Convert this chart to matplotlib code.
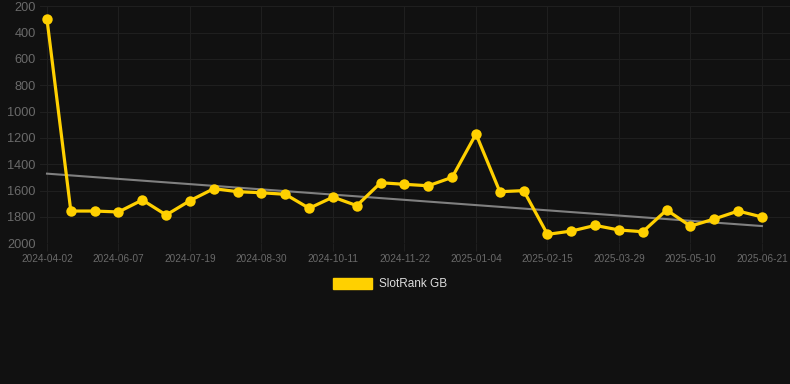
import numpy as np
import matplotlib
matplotlib.use('Agg')
import matplotlib.pyplot as plt
from matplotlib.patches import Patch

# data
DATES = ['2024-04-02', '2024-05-10', '2024-05-24', '2024-06-07', '2024-06-21',
         '2024-07-05', '2024-07-19', '2024-08-02', '2024-08-16', '2024-08-30',
         '2024-09-13', '2024-09-27', '2024-10-11', '2024-10-25', '2024-11-08',
         '2024-11-22', '2024-12-06', '2024-12-20', '2025-01-04', '2025-01-18',
         '2025-02-01', '2025-02-15', '2025-03-01', '2025-03-15', '2025-03-29',
         '2025-04-12', '2025-04-26', '2025-05-10', '2025-05-24', '2025-06-07',
         '2025-06-21']
RANKS = [300, 1755, 1755, 1762, 1671, 1785, 1676, 1585, 1608, 1616,
         1628, 1734, 1649, 1714, 1540, 1552, 1563, 1499, 1170, 1608,
         1600, 1932, 1907, 1864, 1899, 1912, 1747, 1870, 1815, 1755,
         1800]
TREND = [1471, 1869]  # trend line value at first and last date
Y_TICKS = [200, 400, 600, 800, 1000, 1200, 1400, 1600, 1800, 2000]
SERIES_NAME = 'SlotRank GB'

# colours
c_bg = '#111111'
c_grid = '#1f1f1f'
c_text = '#6a6a6a'
c_line = '#FFD000'
c_trend = '#808080'


def main():
    plt.rcParams['font.family'] = ['Liberation Sans', 'DejaVu Sans']

    fig = plt.figure(figsize=(7.9, 3.84), dpi=100, facecolor=c_bg)
    W, H = 790.0, 384.0
    ax = fig.add_axes([40 / W, (H - 243.3) / H, 750 / W, 237 / H])
    ax.set_facecolor(c_bg)

    x = np.arange(len(RANKS))

    # trend line
    ax.plot([x[0], x[-1]], TREND, color=c_trend, lw=1.5, zorder=2)

    ax.plot(x, RANKS, color=c_line, lw=2.3, marker='o', markersize=7.5,
            markeredgewidth=0, zorder=3)

    ax.set_ylim(2000, 200)
    ax.set_yticks(Y_TICKS)
    ax.set_xlim(-7 / 23.833, 743 / 23.833)
    ax.set_xticks(x[::3])
    ax.set_xticklabels(DATES[::3])

    ax.grid(True, color=c_grid, lw=0.8)
    ax.set_axisbelow(True)
    for s in ax.spines.values():
        s.set_visible(False)
    ax.tick_params(axis='x', colors=c_text, labelsize=7.2, length=6, width=0.8,
                   color=c_grid, pad=2)
    ax.tick_params(axis='y', colors=c_text, labelsize=9.2, length=0, pad=3)
    for lbl in ax.get_xticklabels() + ax.get_yticklabels():
        lbl.set_color(c_text)

    handle = Patch(facecolor=c_line, edgecolor=c_line)
    leg = fig.legend([handle], [SERIES_NAME], loc='center',
                     bbox_to_anchor=(390 / W, 1 - 284 / H), frameon=False,
                     handlelength=3.3, handleheight=1.1, handletextpad=0.6,
                     fontsize=8.5)
    for t in leg.get_texts():
        t.set_color('#dddddd')

    fig.savefig('out.png', dpi=100, facecolor=c_bg)


if __name__ == "__main__":
    main()
